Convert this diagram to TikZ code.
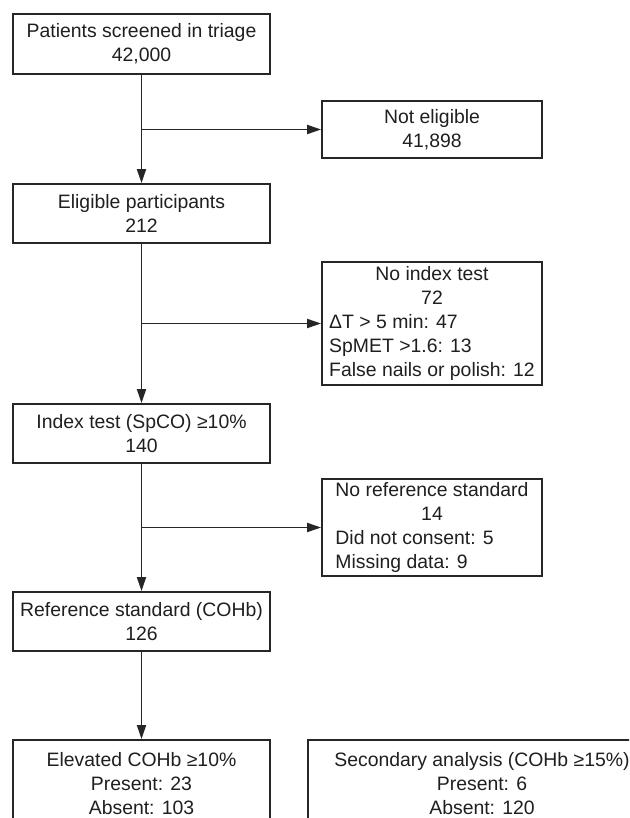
\documentclass[tikz,border=0pt]{standalone}
\usepackage{fontspec}
\setmainfont{Liberation Sans}
\usetikzlibrary{arrows.meta}
\begin{document}
\begin{tikzpicture}[x=1pt,y=-1pt,
  every node/.style={font=\fontsize{19.4}{24}\selectfont, text=black!88},
  fbox/.style={draw=black!85, line width=1.8pt, fill=white, inner sep=0pt, align=center},
  conn/.style={draw=black!85, line width=1.8pt},
  arr/.style={conn, -{Triangle[length=14pt,width=9pt]}}]
\useasboundingbox (0,0) rectangle (629,818);
\fill[white] (0,0) rectangle (629,818);
\clip (0,0) rectangle (629,818);

\node[fbox, minimum width=257pt, minimum height=60pt] (scr) at (141.5,44) {Patients screened in triage\\42,000};
\node[fbox, minimum width=220pt, minimum height=57pt] (ne) at (432,129.5) {Not eligible\\41,898};
\node[fbox, minimum width=257pt, minimum height=59pt] (elig) at (141.5,213.5) {Eligible participants\\212};
\node[fbox, minimum width=220pt, minimum height=123pt] (noidx) at (432,323.5) {\begin{tabular}{@{}l@{}}\multicolumn{1}{@{}c@{}}{No index test}\\\multicolumn{1}{@{}c@{}}{72}\\ΔT > 5 min: 47\\SpMET >1.6: 13\\False nails or polish: 12\end{tabular}};
\node[fbox, minimum width=257pt, minimum height=59pt] (idx) at (141.5,433.5) {Index test (SpCO) ≥10\%\\140};
\node[fbox, minimum width=220pt, minimum height=97pt] (noref) at (432,527.5) {\begin{tabular}{@{}l@{}}\multicolumn{1}{@{}c@{}}{No reference standard}\\\multicolumn{1}{@{}c@{}}{14}\\Did not consent: 5\\Missing data: 9\end{tabular}};
\node[fbox, minimum width=257pt, minimum height=59pt] (ref) at (141.5,621.5) {Reference standard (COHb)\\126};
\node[fbox, minimum width=257pt, minimum height=87pt] (elev) at (141.5,783.5) {Elevated COHb ≥10\%\\Present: 23\\Absent: 103};
\node[fbox, minimum width=348pt, minimum height=87pt] (sec) at (482,783.5) {Secondary analysis (COHb ≥15\%)\\Present: 6\\Absent: 120};

\draw[arr] (scr.south) -- (elig.north);
\draw[arr] (scr.south |- ne.west) -- (ne.west);
\draw[arr] (elig.south) -- (idx.north);
\draw[arr] (elig.south |- noidx.west) -- (noidx.west);
\draw[arr] (idx.south) -- (ref.north);
\draw[arr] (idx.south |- noref.west) -- (noref.west);
\draw[arr] (ref.south) -- (elev.north);
\end{tikzpicture}
\end{document}
